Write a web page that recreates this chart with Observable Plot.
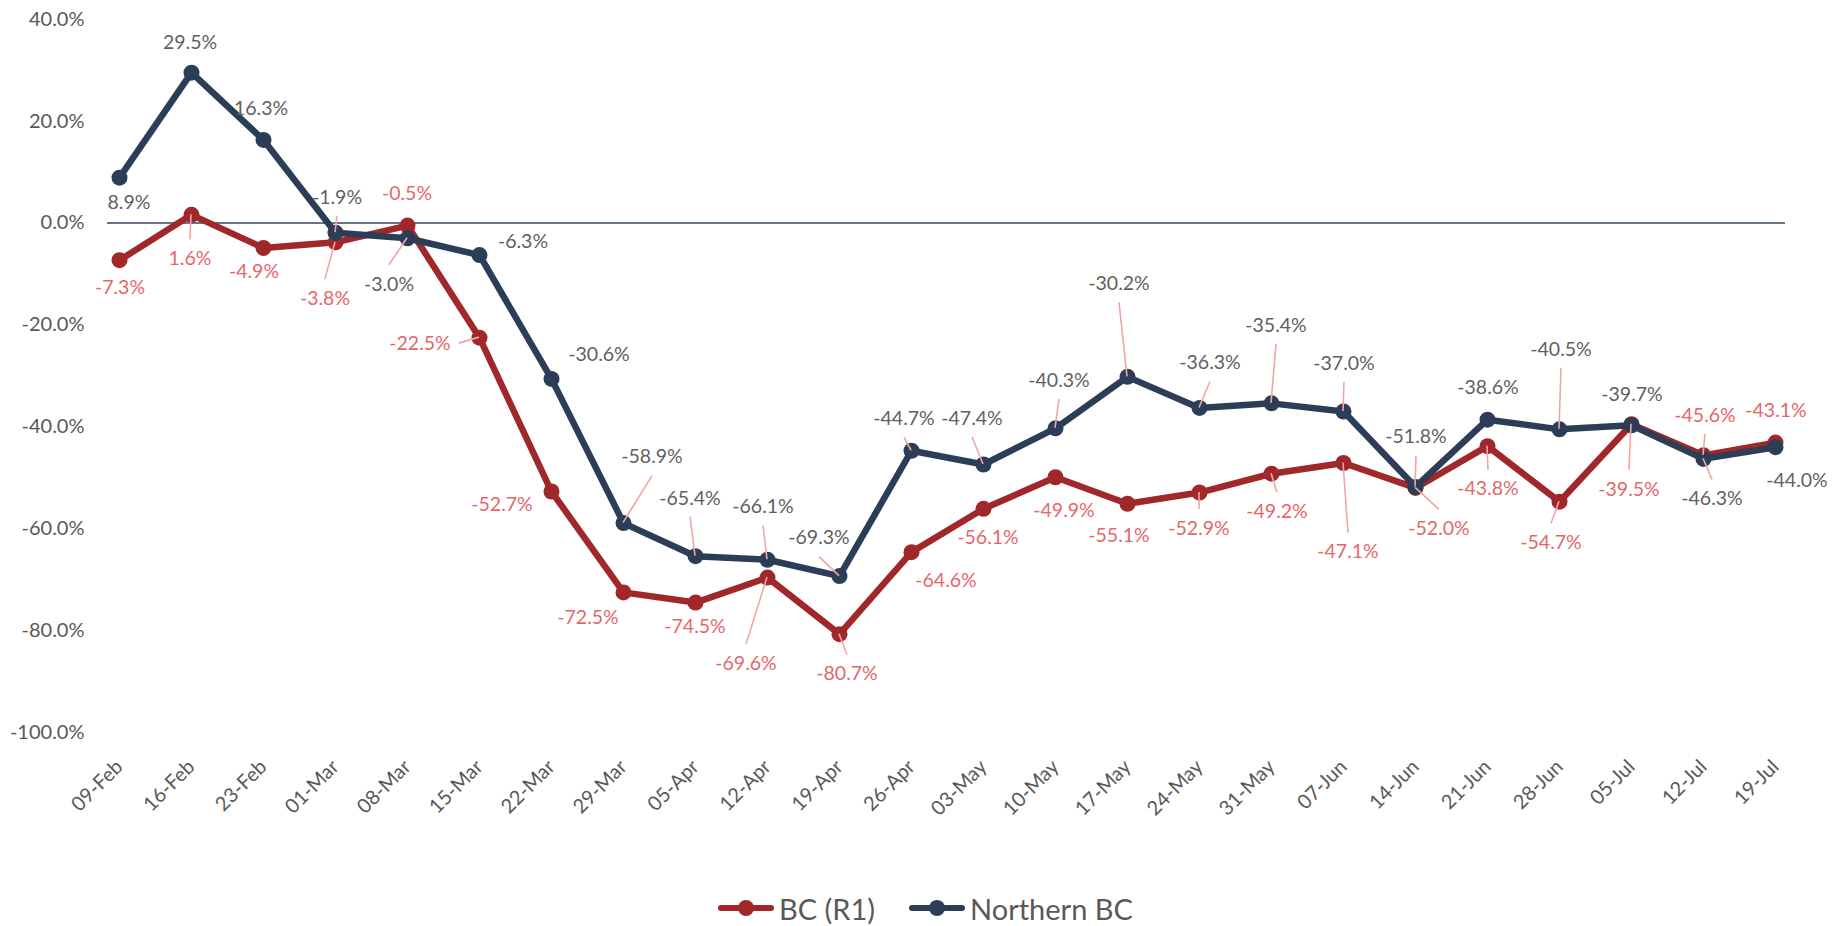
<!DOCTYPE html>
<html>
<head>
<meta charset="utf-8">
<script src="https://cdn.jsdelivr.net/npm/d3@7"></script>
<script src="https://cdn.jsdelivr.net/npm/@observablehq/plot@0.6"></script>
<style>
  html, body { margin: 0; padding: 0; background: #fff; }
  body { width: 1840px; height: 926px; position: relative; overflow: hidden; font-family: Lato, "Open Sans", sans-serif; }
  #chart { position: absolute; left: 0; top: 0; }
  #legend { position: absolute; left: 718px; top: 888px; height: 40px; display: flex; align-items: center; font-size: 29px; color: #595959; }
  .item { display: flex; align-items: center; margin-right: 34px; }
  .item svg { margin-right: 5px; }
</style>
</head>
<body>
<div id="chart"></div>
<div id="legend"></div>
<script>
// ---- data ----
const dates = ["09-Feb","16-Feb","23-Feb","01-Mar","08-Mar","15-Mar","22-Mar","29-Mar","05-Apr","12-Apr","19-Apr","26-Apr","03-May","10-May","17-May","24-May","31-May","07-Jun","14-Jun","21-Jun","28-Jun","05-Jul","12-Jul","19-Jul"];
const bcValues = [-7.3,1.6,-4.9,-3.8,-0.5,-22.5,-52.7,-72.5,-74.5,-69.6,-80.7,-64.6,-56.1,-49.9,-55.1,-52.9,-49.2,-47.1,-52.0,-43.8,-54.7,-39.5,-45.6,-43.1];
const northernValues = [8.9,29.5,16.3,-1.9,-3.0,-6.3,-30.6,-58.9,-65.4,-66.1,-69.3,-44.7,-47.4,-40.3,-30.2,-36.3,-35.4,-37.0,-51.8,-38.6,-40.5,-39.7,-46.3,-44.0];
const yTicks = [40,20,0,-20,-40,-60,-80,-100];
const seriesNames = ["BC (R1)", "Northern BC"];

// ---- styles / label layout (pixel offsets from each point: dx, dy, leader line) ----
const seriesColors = ["#A0282B", "#2C3E57"];
const labelColors = ["#E4676B", "#5F5F5F"];
const bcLabelOffsets = [[1,27,0],[-1,44,1],[-9,24,0],[-10,56,1],[0,-32,0],[-59,6,1],[-49,13,0],[-35,25,0],[0,24,0],[-21,86,1],[8,40,1],[35,29,0],[5,29,0],[9,33,0],[-8,32,0],[0,36,1],[6,38,1],[5,89,1],[24,41,1],[1,43,1],[-8,41,1],[-2,65,1],[2,-40,1],[1,-32,0]];
const northernLabelOffsets = [[10,25,0],[-1,-30,0],[-2,-31,0],[2,-35,1],[-18,46,1],[44,-13,0],[48,-24,0],[29,-66,1],[-5,-58,1],[-4,-53,1],[-20,-38,1],[-7,-32,1],[-11,-46,1],[4,-48,1],[-8,-93,1],[11,-45,1],[5,-78,1],[1,-48,1],[1,-50,1],[1,-32,0],[2,-80,1],[1,-31,0],[9,40,1],[22,33,0]];

const bcRows = dates.map((d, i) => ({date: d, value: bcValues[i], series: seriesNames[0]}));
const northernRows = dates.map((d, i) => ({date: d, value: northernValues[i], series: seriesNames[1]}));

const W = 1840, H = 862;

function labelsMark(index, scales) {
  const g = d3.create("svg:g");
  const leaders = g.append("g").attr("stroke", "#F2A5A5").attr("stroke-width", 1.6);
  const texts = g.append("g").attr("font-size", 19.5).attr("text-anchor", "middle").attr("font-family", "Lato, sans-serif");
  const groups = [[bcValues, bcLabelOffsets, 0], [northernValues, northernLabelOffsets, 1]];
  for (const [vals, offs, s] of groups) {
    vals.forEach((v, i) => {
      const px = scales.x(dates[i]), py = scales.y(v);
      const [dx, dy, lead] = offs[i];
      const lx = px + dx, ly = py + dy;
      const txt = v.toFixed(1) + "%";
      if (lead) {
        let sx, sy;
        if (Math.abs(dy) >= 15) { sx = lx; sy = ly + (dy < 0 ? 19 : -19); }
        else { const hw = txt.length * 5 + 9; sx = lx + (dx < 0 ? hw : -hw); sy = ly; }
        leaders.append("line").attr("x1", sx).attr("y1", sy).attr("x2", px).attr("y2", py);
      }
      texts.append("text").attr("x", lx).attr("y", ly).attr("dy", "0.35em").attr("fill", labelColors[s]).text(txt);
    });
  }
  return g.node();
}

const chart = Plot.plot({
  width: W,
  height: H,
  marginLeft: 107,
  marginRight: 55,
  marginTop: 18,
  marginBottom: H - 732,
  style: {fontFamily: "Lato, sans-serif", background: "#fff", overflow: "visible"},
  x: {type: "point", domain: dates, range: [113.5, 1780], padding: 0, label: null},
  y: {domain: [-100, 40], range: [732, 18.7], label: null},
  color: {domain: seriesNames, range: seriesColors},
  marks: [
    Plot.axisY({ticks: yTicks, tickFormat: d => d.toFixed(1) + "%", tickSize: 0, tickPadding: 23, fontSize: 20, color: "#595959", label: null}),
    Plot.axisX({tickRotate: -45, tickSize: 0, tickPadding: 31, fontSize: 20, color: "#595959", label: null}),
    Plot.ruleY([0], {stroke: "#34465E", strokeWidth: 1.5}),
    Plot.line(bcRows, {x: "date", y: "value", stroke: "series", strokeWidth: 6.5, strokeLinejoin: "round"}),
    Plot.dot(bcRows, {x: "date", y: "value", fill: "series", r: 8}),
    Plot.line(northernRows, {x: "date", y: "value", stroke: "series", strokeWidth: 6.5, strokeLinejoin: "round"}),
    Plot.dot(northernRows, {x: "date", y: "value", fill: "series", r: 8}),
    labelsMark
  ]
});
document.getElementById("chart").appendChild(chart);

// ---- legend ----
const legend = d3.select("#legend");
seriesNames.forEach((name, i) => {
  const item = legend.append("div").attr("class", "item");
  const svg = item.append("svg").attr("width", 56).attr("height", 20);
  svg.append("line").attr("x1", 3).attr("x2", 53).attr("y1", 10).attr("y2", 10)
    .attr("stroke", seriesColors[i]).attr("stroke-width", 6).attr("stroke-linecap", "round");
  svg.append("circle").attr("cx", 28).attr("cy", 10).attr("r", 8).attr("fill", seriesColors[i]);
  item.append("span").text(name);
});
</script>
</body>
</html>
